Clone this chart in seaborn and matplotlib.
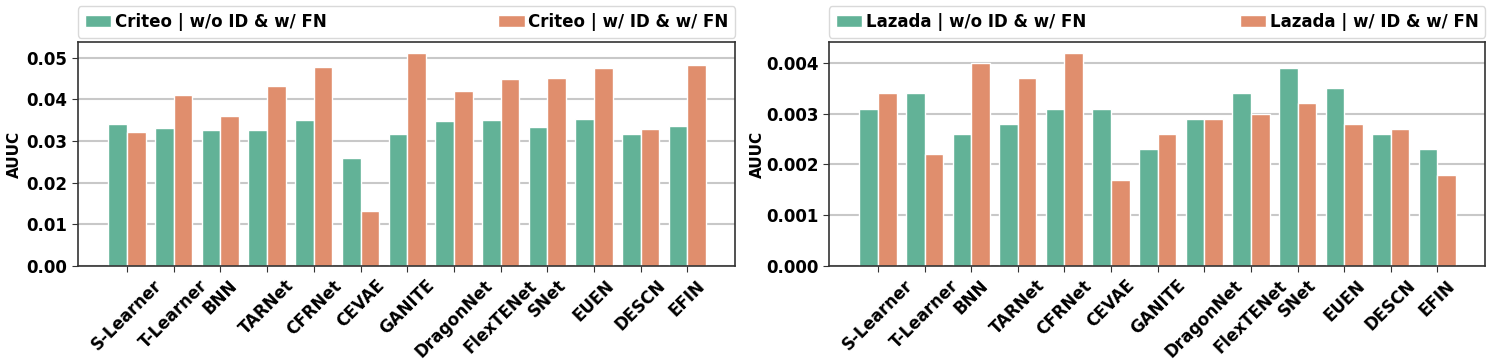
import matplotlib
matplotlib.use("Agg")
import matplotlib.pyplot as plt
import seaborn as sns
import pandas as pd

models = ["S-Learner", "T-Learner", "BNN", "TARNet", "CFRNet", "CEVAE", "GANITE",
          "DragonNet", "FlexTENet", "SNet", "EUEN", "DESCN", "EFIN"]

criteo_wo_id = [0.0341, 0.0331, 0.0326, 0.0327, 0.0350, 0.0260, 0.0318,
                0.0347, 0.0350, 0.0334, 0.0353, 0.0316, 0.0337]
criteo_w_id = [0.0322, 0.0410, 0.0360, 0.0433, 0.0478, 0.0133, 0.0512,
               0.0420, 0.0450, 0.0451, 0.0475, 0.0330, 0.0483]

lazada_wo_id = [0.0031, 0.0034, 0.0026, 0.0028, 0.0031, 0.0031, 0.0023,
                0.0029, 0.0034, 0.0039, 0.0035, 0.0026, 0.0023]
lazada_w_id = [0.0034, 0.0022, 0.0040, 0.0037, 0.0042, 0.0017, 0.0026,
               0.0029, 0.0030, 0.0032, 0.0028, 0.0027, 0.0018]

series_names = [("Criteo | w/o ID & w/ FN", "Criteo | w/ ID & w/ FN"),
                ("Lazada | w/o ID & w/ FN", "Lazada | w/ ID & w/ FN")]
yticks_sets = [[0.00, 0.01, 0.02, 0.03, 0.04, 0.05],
               [0.000, 0.001, 0.002, 0.003, 0.004]]
yfmt = ["{:.2f}", "{:.3f}"]
colors = ["#62b297", "#e08e6d"]

plt.rcParams["font.family"] = ["DejaVu Sans"]
plt.rcParams["font.weight"] = "bold"

fig = plt.figure(figsize=(14.95, 3.64), dpi=100)
W, H = 1495, 364
axes = [fig.add_axes([78 / W, 1 - 266 / H, (735 - 78) / W, (266 - 42) / H]),
        fig.add_axes([829 / W, 1 - 266 / H, (1485 - 829) / W, (266 - 42) / H])]
ylabel_x = [-0.085, -0.098]

datasets = [(criteo_wo_id, criteo_w_id), (lazada_wo_id, lazada_w_id)]

for i, ax in enumerate(axes):
    a, b = datasets[i]
    n1, n2 = series_names[i]
    df = pd.DataFrame({
        "Model": models * 2,
        "AUUC": a + b,
        "Setting": [n1] * len(models) + [n2] * len(models),
    })
    ax.set_axisbelow(True)
    ax.yaxis.grid(True, color="#c8c8c8", linewidth=1.5)
    sns.barplot(data=df, x="Model", y="AUUC", hue="Setting", palette=colors,
                saturation=1, width=0.8, edgecolor="white", linewidth=1,
                ax=ax, errorbar=None)
    ax.set_xlim(-1.05, 13.02)
    ymax = max(a + b) * 1.05
    ax.set_ylim(0, ymax)
    ax.set_yticks(yticks_sets[i])
    ax.set_yticklabels([yfmt[i].format(v) for v in yticks_sets[i]],
                       fontsize=12, fontweight="bold")
    ax.set_xticks(range(len(models)))
    ax.set_xticklabels(models, rotation=45, ha="center", fontsize=12,
                       fontweight="bold")
    ax.set_xlabel("")
    ax.set_ylabel("AUUC", fontsize=11, fontweight="bold")
    ax.yaxis.set_label_coords(ylabel_x[i], 0.5)
    for s in ax.spines.values():
        s.set_color("#333333")
        s.set_linewidth(1.2)
    ax.tick_params(axis="both", length=4, color="#333333")
    handles, labels = ax.get_legend_handles_labels()
    ax.legend(handles, labels, loc="lower left", bbox_to_anchor=(0, 1.02, 1, 0.2),
              mode="expand", ncol=2, frameon=True, borderaxespad=0,
              prop={"size": 12, "weight": "bold"}, handlelength=1.6,
              handletextpad=0.2, borderpad=0.4, edgecolor="#d0d0d0")

fig.savefig("out.png", dpi=100)
